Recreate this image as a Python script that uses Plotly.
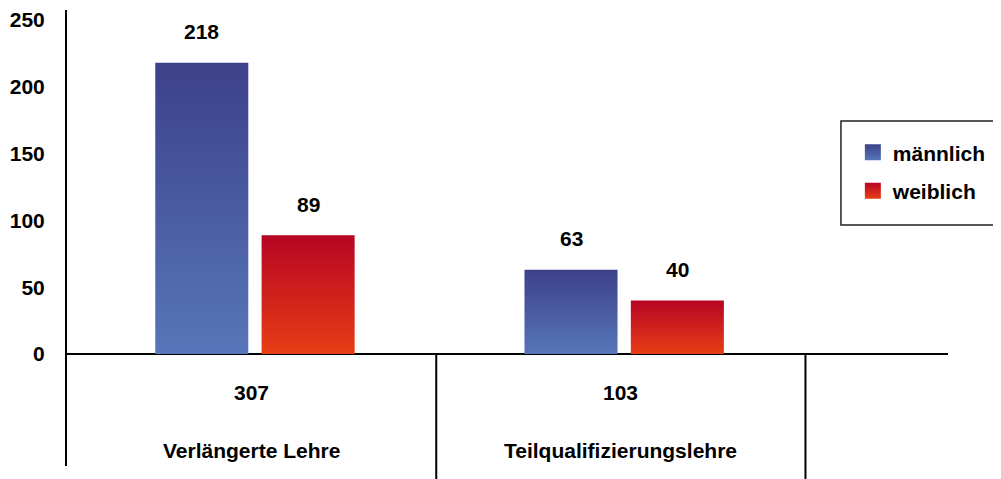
import plotly.graph_objects as go

# ---- data ----
categories = ["Verlängerte Lehre", "Teilqualifizierungslehre"]
totals = [307, 103]
series_names = ["männlich", "weiblich"]
maennlich = [218, 63]
weiblich = [89, 40]
y_ticks = [0, 50, 100, 150, 200, 250]

# ---- style ----
FONT = "Liberation Sans, Arial, sans-serif"
FS = 21
BAR_W = 0.252
OFFSETS = [-0.135, 0.153]
GRADS = [("#5776b9", "#3d4189"), ("#e83d15", "#b60523")]  # (bottom, top)
Y_RANGE = [-83.8, 257.5]
X_RANGE = [-0.5, 1.886]

fig = go.Figure()
for s, (name, vals) in enumerate(zip(series_names, [maennlich, weiblich])):
    bottom, top = GRADS[s]
    # legend entry (square swatch with vertical gradient)
    fig.add_trace(go.Scatter(
        x=[None], y=[None], mode="markers", name=f"<b>{name}</b>", legendgroup=name,
        marker=dict(symbol="square", size=16, color=top,
                    gradient=dict(type="vertical", color=bottom)),
        hoverinfo="skip",
    ))
    for i, v in enumerate(vals):
        x0 = i + OFFSETS[s] - BAR_W / 2
        x1 = x0 + BAR_W
        fig.add_trace(go.Scatter(
            x=[x0, x1, x1, x0, x0], y=[0, 0, v, v, 0],
            mode="none", fill="toself",
            fillgradient=dict(type="vertical", colorscale=[[0, bottom], [1, top]]),
            name=name, legendgroup=name, showlegend=False,
            hoverinfo="skip",
        ))
        fig.add_annotation(x=i + OFFSETS[s], y=v, text=f"<b>{v}</b>", showarrow=False,
                           yanchor="middle", yshift=31, font=dict(size=FS))

for i, (cat, tot) in enumerate(zip(categories, totals)):
    fig.add_annotation(x=i, y=-29, text=f"<b>{tot}</b>", showarrow=False,
                       yanchor="middle", font=dict(size=FS))
    fig.add_annotation(x=i, y=-72, text=f"<b>{cat}</b>", showarrow=False,
                       yanchor="middle", font=dict(size=FS))

# category separators below the baseline
zero_paper = (0 - Y_RANGE[0]) / (Y_RANGE[1] - Y_RANGE[0])
for b in [0.5, 1.5]:
    fig.add_shape(type="line", xref="x", yref="paper", x0=b, x1=b, y0=zero_paper, y1=-0.04,
                  line=dict(color="black", width=2))

# legend frame
fig.add_shape(type="rect", xref="paper", yref="paper", x0=0.8785, x1=1.12, y0=0.5285, y1=0.7566,
              line=dict(color="#222", width=1.5), fillcolor="rgba(0,0,0,0)", layer="above")

fig.update_layout(
    width=1001, height=479,
    margin=dict(l=59, r=61, t=2, b=21, autoexpand=False),
    plot_bgcolor="white", paper_bgcolor="white",
    font=dict(family=FONT, size=FS, color="black"),
    showlegend=True,
    legend=dict(x=0.892, y=0.732, xanchor="left", yanchor="top",
                borderwidth=0, bgcolor="rgba(0,0,0,0)",
                font=dict(size=FS), tracegroupgap=8, entrywidth=110),
)
fig.update_xaxes(range=X_RANGE, showgrid=False, zeroline=False, showticklabels=False,
                 showline=False, automargin=False)
fig.update_yaxes(range=Y_RANGE, tickvals=y_ticks, ticktext=[f"<b>{t}</b>" for t in y_ticks],
                 showgrid=False, zeroline=True, zerolinecolor="black", zerolinewidth=2,
                 showline=True, linecolor="black", linewidth=2, ticks="", ticklen=0,
                 ticklabelstandoff=16, automargin=False)

fig.write_html("out.html")
